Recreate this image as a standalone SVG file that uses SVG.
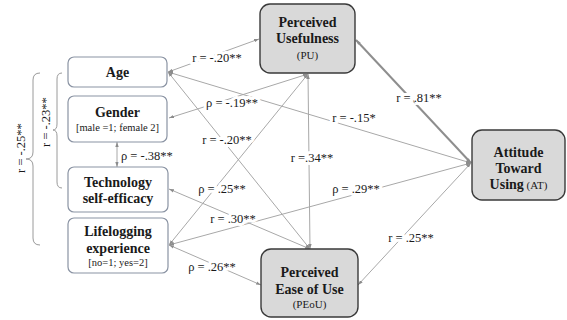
<svg xmlns="http://www.w3.org/2000/svg" width="567" height="320" viewBox="0 0 567 320">
<defs>
<marker id="ah" viewBox="0 0 5 4" refX="5" refY="2" markerWidth="5" markerHeight="4" markerUnits="userSpaceOnUse" orient="auto-start-reverse">
<path d="M0,0.3 L5,2 L0,3.7 Z" fill="#8c8c8c"/>
</marker>
<style>
.bg{fill:#ffffff}
.ln{fill:none;stroke:#a8a8a8;stroke-width:1;marker-start:url(#ah);marker-end:url(#ah)}
.thick{stroke:#8e8e8e;stroke-width:2}
.lnode{fill:#ffffff;stroke:#8a93a3;stroke-width:1.2}
.dnode{fill:#d9d9d9;stroke:#3a3a3a;stroke-width:1.4}
.t{font-family:"Liberation Serif","Times New Roman",serif;fill:#1a1a1a;text-anchor:middle}
.b{font-weight:bold;font-size:14px}
.s{font-size:11px}
.xs{font-size:10.5px}
.lab{font-family:"Liberation Serif","Times New Roman",serif;font-size:12.5px;fill:#1a1a1a;text-anchor:middle;stroke:#ffffff;stroke-width:6;paint-order:stroke;stroke-linejoin:round}
.brace{fill:none;stroke:#9a9a9a;stroke-width:1}
</style>
</defs>
<rect class="bg" x="0" y="0" width="567" height="320"/>

<g id="connectors">
<line class="ln" x1="259" y1="39" x2="168" y2="72"/>
<line class="ln" x1="168" y1="72" x2="471" y2="163"/>
<line class="ln" x1="168" y1="72" x2="310" y2="249"/>
<line class="ln" x1="308" y1="74" x2="169" y2="118"/>
<line class="ln" x1="308" y1="74" x2="169" y2="245"/>
<line class="ln" x1="308" y1="74" x2="310" y2="249"/>
<line class="ln" x1="310" y1="249" x2="169" y2="189"/>
<line class="ln" x1="471" y1="163" x2="169" y2="245"/>
<line class="ln" x1="169" y1="245" x2="261" y2="285"/>
<line class="ln thick" x1="356" y1="40" x2="471" y2="163"/>
<line class="ln" x1="358" y1="285" x2="471" y2="163"/>
<line class="ln" x1="117" y1="142" x2="117" y2="167"/>
<path class="brace" d="M62,73 Q57,73 57,79 L57,124 Q57,130 53,130 Q57,130 57,136 L57,182 Q57,188 62,188"/>
<path class="brace" d="M40,73 Q33,73 33,80 L33,152 Q33,159 26,159 Q33,159 33,166 L33,238 Q33,245 40,245"/>
<text class="lab" x="217" y="62">r = -.20**</text>
<text class="lab" x="232" y="107">ρ = -.19**</text>
<text class="lab" x="227" y="144">r = -.20**</text>
<text class="lab" x="354" y="122">r = -.15*</text>
<text class="lab" x="312" y="162">r =.34**</text>
<text class="lab" x="222" y="193">ρ = .25**</text>
<text class="lab" x="233" y="223">r = .30**</text>
<text class="lab" x="356" y="193">ρ = .29**</text>
<text class="lab" x="212" y="271">ρ = .26**</text>
<text class="lab" x="419" y="102">r = .81**</text>
<text class="lab" x="411" y="242">r = .25**</text>
<text class="lab" x="121" y="160" style="text-anchor:start">ρ = -.38**</text>
<text class="lab" transform="translate(50,122) rotate(-90)">r = -.23**</text>
<text class="lab" transform="translate(24.5,148) rotate(-90)">r = -.25**</text>
</g>

<g id="age">
<rect class="lnode" x="68" y="57" width="99" height="30" rx="6"/>
<text class="t b" x="117.5" y="76.5">Age</text>
</g>
<g id="gender">
<rect class="lnode" x="68" y="96" width="99" height="46" rx="6"/>
<text class="t b" x="117.5" y="117">Gender</text>
<text class="t xs" x="117.5" y="131">[male =1; female 2]</text>
</g>
<g id="tech">
<rect class="lnode" x="68" y="167" width="100" height="45" rx="6"/>
<text class="t b" x="118" y="187">Technology</text>
<text class="t b" x="118" y="203">self-efficacy</text>
</g>
<g id="lifelog">
<rect class="lnode" x="68" y="218" width="100" height="55" rx="6"/>
<text class="t b" x="118" y="236">Lifelogging</text>
<text class="t b" x="118" y="253">experience</text>
<text class="t xs" x="118" y="266">[no=1; yes=2]</text>
</g>
<g id="pu">
<rect class="dnode" x="260" y="4" width="95" height="69" rx="10"/>
<text class="t b" x="307.5" y="27">Perceived</text>
<text class="t b" x="307.5" y="43">Usefulness</text>
<text class="t s" x="307.5" y="59">(PU)</text>
</g>
<g id="peou">
<rect class="dnode" x="261" y="249" width="97" height="68" rx="10"/>
<text class="t b" x="309.5" y="277">Perceived</text>
<text class="t b" x="309.5" y="294">Ease of Use</text>
<text class="t s" x="309.5" y="308">(PEoU)</text>
</g>
<g id="at">
<rect class="dnode" x="472" y="130" width="93" height="70" rx="10"/>
<text class="t b" x="518.5" y="157">Attitude</text>
<text class="t b" x="518.5" y="173">Toward</text>
<text class="t" x="518.5" y="189"><tspan class="b">Using</tspan><tspan class="s"> (AT)</tspan></text>
</g>
</svg>
